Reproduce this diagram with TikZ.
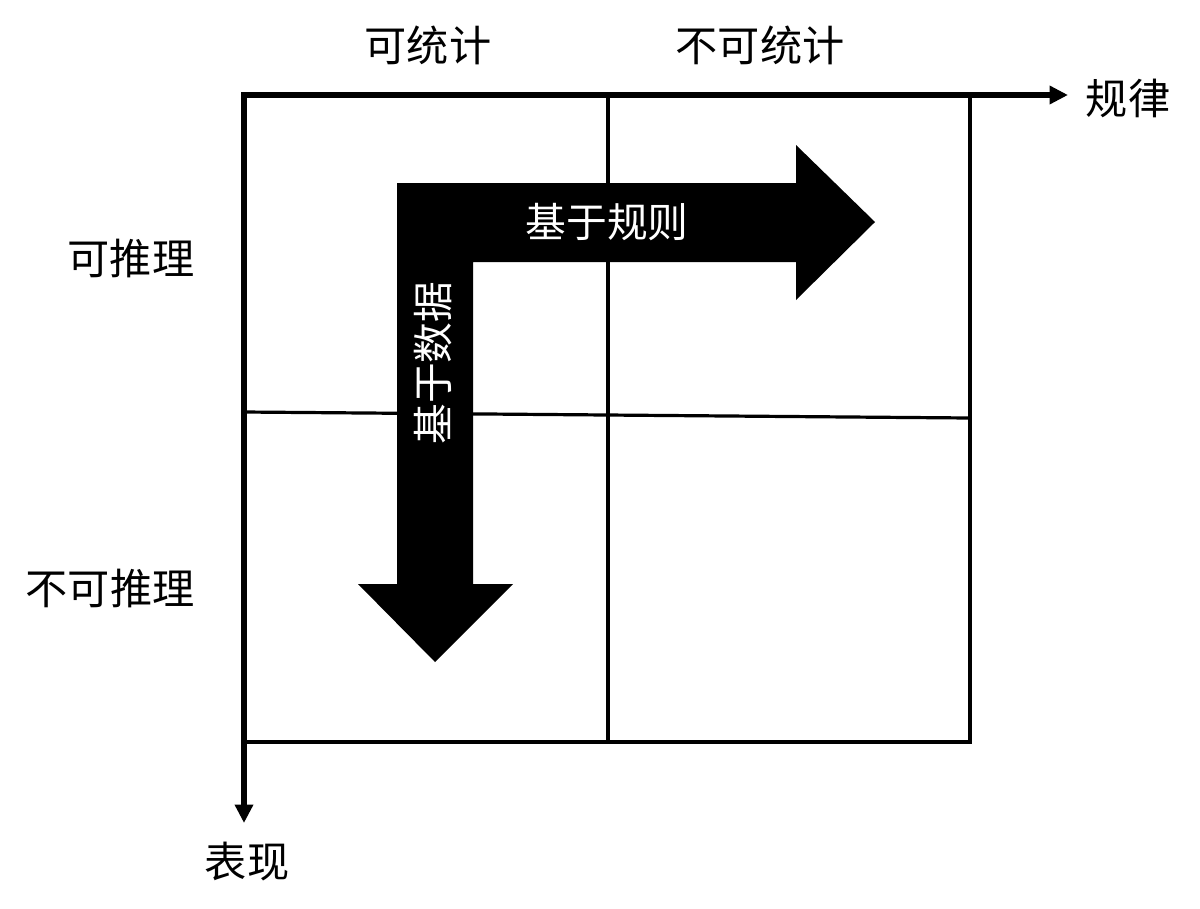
\documentclass[tikz,border=0pt]{standalone}
\usepackage{fontspec}
\newfontfamily\cjk{Noto Sans CJK SC}
\usetikzlibrary{arrows.meta}

\begin{document}
\begin{tikzpicture}[x=0.025cm,y=0.025cm,>={Triangle[length=4.6mm,width=4.4mm]},
  lab/.style={font=\cjk\fontsize{30}{30}\selectfont,inner sep=0pt},
  inlab/.style={font=\cjk\fontsize{29}{29}\selectfont,text=white,inner sep=0pt},
  axisline/.style={line width=1.3mm,line join=miter},
  gridline/.style={line width=0.8mm}]
\useasboundingbox (0,0) rectangle (1200,-908);

% ---- grid ----
\draw[gridline] (244,-95) rectangle (970,-742);
\draw[gridline] (608,-95) -- (608,-742);
\draw[gridline] (244,-412) -- (970,-418);

% ---- axes ----
\coordinate (xend) at (1068,-95);
\coordinate (orig) at (244,-95);
\coordinate (yend) at (244,-823);
\draw[axisline,<->] (xend) -- (orig) -- (yend);

% ---- axis labels ----
\node[lab] (stat) at (428,-45) {可统计};
\node[lab] (nostat) at (760,-45) {不可统计};
\node[lab] (law) at (1128,-98) {规律};
\node[lab] (infer) at (131,-258) {可推理};
\node[lab] (noinfer) at (110,-588) {不可推理};
\node[lab] (perf) at (247,-862) {表现};

% ---- bent arrow ----
\fill (397,-183) -- (796,-183) -- (796,-145) -- (875,-222) -- (796,-300)
  -- (796,-262) -- (473,-262) -- (473,-584) -- (513,-584) -- (435,-662)
  -- (358,-584) -- (397,-584) -- cycle;
\node[inlab] (rule) at (607,-222) {基于规则};
\node[inlab,rotate=90] (data) at (433,-363) {基于数据};

\end{tikzpicture}
\end{document}
